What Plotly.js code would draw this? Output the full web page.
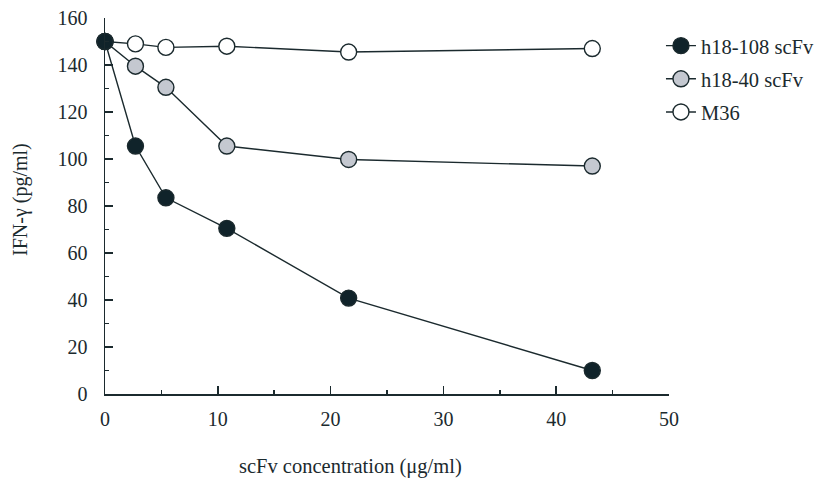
<!DOCTYPE html>
<html>
<head>
<meta charset="utf-8">
<script src="https://cdn.plot.ly/plotly-3.0.1.min.js"></script>
<style>html,body{margin:0;padding:0;background:#fff;}#chart{width:814px;height:478px;}</style>
</head>
<body>
<div id="chart"></div>
<script>
const conc = [0, 2.7, 5.4, 10.8, 21.6, 43.2];
const h18_108 = [150, 105.5, 83.5, 70.5, 40.8, 10];
const h18_40 = [150, 139.5, 130.5, 105.5, 99.8, 97];
const m36 = [150, 149, 147.5, 148, 145.5, 147];
const seriesNames = ["h18-108 scFv", "h18-40 scFv", "M36"];
const xTicks = [0, 10, 20, 30, 40, 50];
const yTicks = [0, 20, 40, 60, 80, 100, 120, 140, 160];

const ink = "#1b2a2e";
const fam = "Liberation Serif, Times New Roman, serif";
function f(size) { return {family: fam, color: ink, size: size}; }

function tr(y, name, fill, rank) {
  return {
    x: conc, y: y, name: name, type: "scatter", mode: "lines+markers",
    legendrank: rank, legendgroup: "g" + rank,
    line: {color: ink, width: 1.4},
    marker: {size: 16, color: fill, line: {color: ink, width: 1.4}},
    cliponaxis: false
  };
}
const data = [
  tr(h18_108, seriesNames[0], "#10232a", 1),
  tr(h18_40, seriesNames[1], "#c4c8d0", 2),
  tr(m36, seriesNames[2], "#ffffff", 3)
];
// draw M36 on top (as in the reference) while keeping legend order by rank
data.reverse();

const layout = {
  width: 814, height: 478,
  margin: {l: 105, r: 145, t: 18, b: 84, autoexpand: false},
  paper_bgcolor: "#fff", plot_bgcolor: "#fff",
  font: f(20),
  showlegend: true,
  legend: {
    xref: "container", yref: "container",
    x: 0.812, xanchor: "left", y: 0.946, yanchor: "top",
    traceorder: "grouped", tracegroupgap: 3.5,
    font: f(20.5),
    bgcolor: "rgba(0,0,0,0)"
  },
  xaxis: {
    range: [0, 50], tickvals: xTicks, ticktext: xTicks.map(String),
    ticks: "inside", ticklen: 8, tickwidth: 1.5, tickcolor: ink,
    minor: {dtick: 5, ticks: "inside", ticklen: 4, tickwidth: 1.5, tickcolor: ink},
    showline: true, linecolor: ink, linewidth: 1.5,
    showgrid: false, zeroline: false, ticklabelstandoff: 6,
    tickfont: f(20), automargin: false
  },
  yaxis: {
    range: [0, 160], tickvals: yTicks, ticktext: yTicks.map(String),
    ticks: "inside", ticklen: 8, tickwidth: 1.5, tickcolor: ink,
    minor: {dtick: 10, ticks: "inside", ticklen: 4, tickwidth: 1.5, tickcolor: ink},
    showline: true, linecolor: ink, linewidth: 1.5,
    showgrid: false, zeroline: false, ticklabelstandoff: 12,
    tickfont: f(20), automargin: false
  },
  annotations: [{
    text: "scFv concentration (μg/ml)", xref: "paper", yref: "paper",
    x: (350 - 105) / 564, y: -(467 - 394) / 376, xanchor: "center", yanchor: "middle", showarrow: false,
    font: f(20.5)
  }, {
    text: "IFN-γ (pg/ml)", xref: "paper", yref: "paper", textangle: -90,
    x: (20 - 105) / 564, y: (394 - 200) / 376, xanchor: "center", yanchor: "middle", showarrow: false,
    font: f(20)
  }]
};
Plotly.newPlot("chart", data, layout, {displayModeBar: false, staticPlot: true});
</script>
</body>
</html>
